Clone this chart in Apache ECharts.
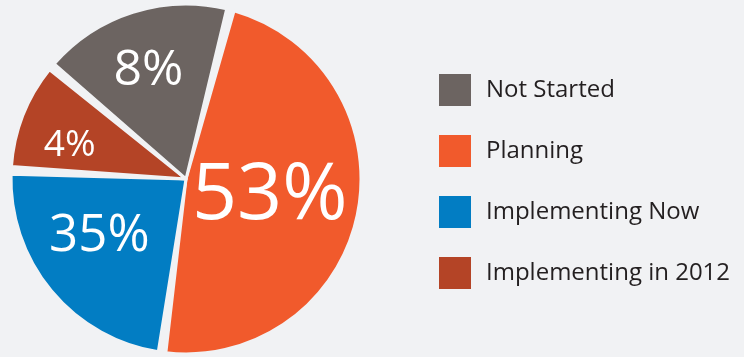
<!DOCTYPE html>
<html>
<head>
<meta charset="utf-8">
<script src="https://cdn.jsdelivr.net/npm/echarts@6/dist/echarts.min.js"></script>
<style>
  html, body { margin: 0; padding: 0; background: #f1f2f4; }
  #chart { width: 744px; height: 357px; }
</style>
</head>
<body>
<div id="chart"></div>
<script>
// Slice order as drawn clockwise, starting near 12 o'clock
const categories = ['Planning', 'Implementing Now', 'Implementing in 2012', 'Not Started'];
// Share of the circle each slice occupies in the picture (percent)
const sliceShares = [48.1, 23.6, 10.3, 18.0];
// Printed labels on the slices
const sliceLabels = ['53%', '35%', '4%', '8%'];
// Legend order
const legendOrder = ['Not Started', 'Planning', 'Implementing Now', 'Implementing in 2012'];

const colors = {
  'Planning': '#f15a2c',
  'Implementing Now': '#027dc3',
  'Implementing in 2012': '#b44426',
  'Not Started': '#6c6461'
};
const labelStyle = {
  'Planning': { fontSize: 79, offset: [-5, 0] },
  'Implementing Now': { fontSize: 51, offset: [-17, 0] },
  'Implementing in 2012': { fontSize: 37, offset: [-32, -1] },
  'Not Started': { fontSize: 50, offset: [-10, -22] }
};

const data = categories.map((name, i) => ({
  name: name,
  value: sliceShares[i],
  itemStyle: { color: colors[name] },
  label: {
    formatter: sliceLabels[i],
    fontSize: labelStyle[name].fontSize,
    offset: labelStyle[name].offset
  }
}));

const chart = echarts.init(document.getElementById('chart'), null, { renderer: 'canvas' });
chart.setOption({
  backgroundColor: '#f1f2f4',
  animation: false,
  legend: {
    orient: 'vertical',
    left: 434,
    top: 69,
    data: legendOrder,
    icon: 'rect',
    itemWidth: 32,
    itemHeight: 32,
    itemGap: 29,
    selectedMode: false,
    itemStyle: { borderWidth: 0 },
    textStyle: {
      fontFamily: 'Open Sans',
      fontSize: 24,
      color: '#231f20',
      padding: [0, 0, 0, 10]
    }
  },
  series: [{
    type: 'pie',
    center: [186, 179],
    radius: [0, 175],
    startAngle: 75.3,
    clockwise: true,
    padAngle: 2.5,
    avoidLabelOverlap: false,
    itemStyle: { borderColor: '#f1f2f4', borderWidth: 3 },
    label: {
      show: true,
      position: 'inside',
      color: '#ffffff',
      fontFamily: 'Open Sans',
      fontWeight: 'normal'
    },
    labelLine: { show: false },
    emphasis: { disabled: true },
    data: data
  }]
});
</script>
</body>
</html>
